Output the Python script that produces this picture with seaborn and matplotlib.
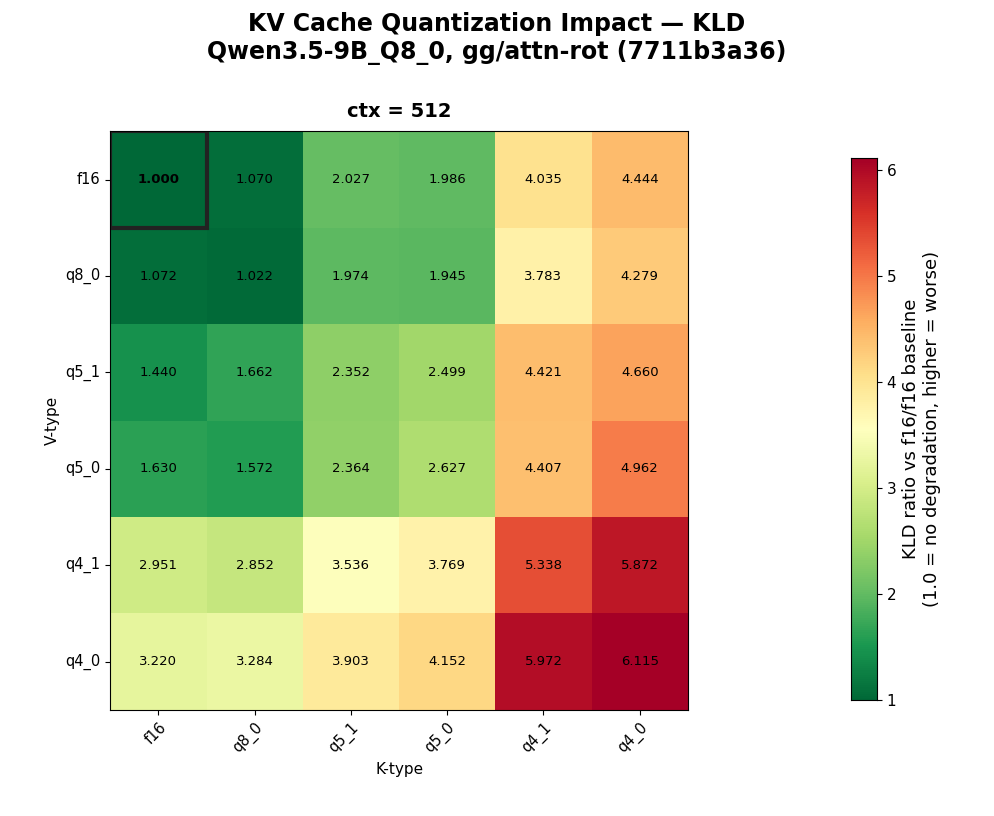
import numpy as np
import pandas as pd
import matplotlib
matplotlib.use('Agg')
import matplotlib.pyplot as plt
import seaborn as sns
from matplotlib.patches import Rectangle

k_types = ['f16', 'q8_0', 'q5_1', 'q5_0', 'q4_1', 'q4_0']
v_types = ['f16', 'q8_0', 'q5_1', 'q5_0', 'q4_1', 'q4_0']
row_f16 = [1.000, 1.070, 2.027, 1.986, 4.035, 4.444]
row_q8_0 = [1.072, 1.022, 1.974, 1.945, 3.783, 4.279]
row_q5_1 = [1.440, 1.662, 2.352, 2.499, 4.421, 4.660]
row_q5_0 = [1.630, 1.572, 2.364, 2.627, 4.407, 4.962]
row_q4_1 = [2.951, 2.852, 3.536, 3.769, 5.338, 5.872]
row_q4_0 = [3.220, 3.284, 3.903, 4.152, 5.972, 6.115]

df = pd.DataFrame([row_f16, row_q8_0, row_q5_1, row_q5_0, row_q4_1, row_q4_0],
                  index=v_types, columns=k_types)

fig = plt.figure(figsize=(9.94, 8.16), dpi=100)
ax = fig.add_axes([0.111, 0.130, 0.581, 0.709])
cax = fig.add_axes([0.856, 0.142, 0.026, 0.664])

sns.heatmap(df, ax=ax, cmap='RdYlGn_r', vmin=1.0, vmax=df.values.max(),
            annot=True, fmt='.3f', annot_kws={'size': 9.5, 'color': 'black'},
            cbar_ax=cax, cbar_kws={'label': 'KLD ratio vs f16/f16 baseline\n(1.0 = no degradation, higher = worse)'})
ax.texts[0].set_fontweight('bold')
ax.add_patch(Rectangle((0, 0), 1, 1, fill=False, edgecolor='#222222', lw=3))
for s in ax.spines.values():
    s.set_visible(True)
    s.set_color('black')

ax.set_xlabel('K-type', fontsize=11)
ax.set_ylabel('V-type', fontsize=11)
ax.set_xticklabels(k_types, rotation=45, ha='right', rotation_mode='anchor', fontsize=10.5)
ax.set_yticklabels(v_types, rotation=0, fontsize=10.5)
ax.set_title('ctx = 512', fontsize=14, fontweight='bold', pad=10)
cax.tick_params(labelsize=11)
cax.yaxis.label.set_size(13)
for s in cax.spines.values():
    s.set_visible(True)

fig.suptitle('KV Cache Quantization Impact — KLD\nQwen3.5-9B_Q8_0, gg/attn-rot (7711b3a36)',
             fontsize=17, fontweight='bold', y=0.985)
fig.savefig('out.png', dpi=100)
